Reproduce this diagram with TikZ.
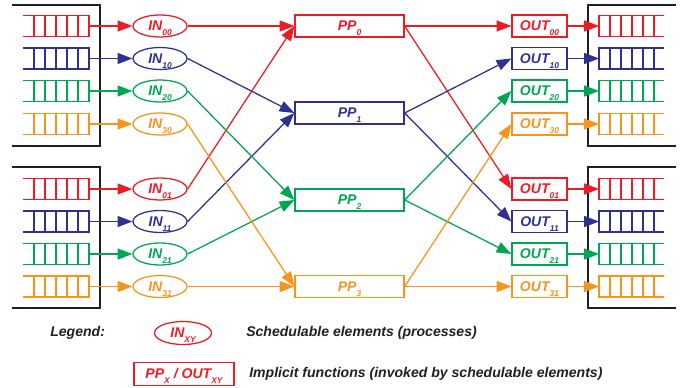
\documentclass[tikz,border=0pt]{standalone}
\usepackage{fontspec}
\setmainfont{Liberation Sans}
\usetikzlibrary{shapes,arrows.meta}
\definecolor{cRed}{RGB}{237,28,36}
\definecolor{cBlue}{RGB}{46,49,146}
\definecolor{cGreen}{RGB}{0,166,81}
\definecolor{cOrange}{RGB}{247,148,29}
\definecolor{cText}{RGB}{35,31,32}
\newcommand{\lbl}[2]{\textbf{\textit{#1\raisebox{-3.5pt}[0pt][0pt]{\fontsize{6}{6}\selectfont #2}}}}
\newcommand{\inqueue}[3]{
  \begin{scope}[shift={(0,#1)},#2,QueueLine]
    \draw (23,-10.5) -| (89,10.5) -- (23,10.5);
    \foreach \cx in {34,45,56,67,78} \draw (\cx,-10.5) -- (\cx,10.5);
    \coordinate (#3) at (89,0);
  \end{scope}
}
\newcommand{\outqueue}[3]{
  \begin{scope}[shift={(0,#1)},#2,QueueLine]
    \draw (664,-10.5) -| (599,10.5) -- (664,10.5);
    \foreach \cx in {610,621,632,643,654} \draw (\cx,-10.5) -- (\cx,10.5);
    \coordinate (#3) at (599,0);
  \end{scope}
}
\tikzset{
  x=0.025cm, y=-0.025cm,
  every node/.style={font=\fontsize{10}{12}\selectfont},
  QueueLine/.style={line width=0.9pt},
  InNode/.style={ellipse,draw,line width=0.9pt,minimum width=1.35cm,minimum height=0.55cm,inner sep=0pt},
  BoxNode/.style={rectangle,draw,line width=0.9pt,minimum height=0.55cm,inner sep=0pt},
  PPNode/.style={BoxNode,minimum width=2.725cm},
  OutNode/.style={BoxNode,minimum width=1.375cm},
  FlowEdge/.style={-{Triangle[length=10.5pt,width=7.8pt]},line width=0.9pt},
  Frame/.style={line width=1pt,cText},
  LegendText/.style={anchor=west,inner sep=0pt,cText},
}

\begin{document}
\begin{tikzpicture}
	\useasboundingbox (0,0) rectangle (691,388);
	\draw[Frame] (12,5) -| (100,146) -- (12,146);
	\draw[Frame] (12,167) -| (100,308) -- (12,308);
	\draw[Frame] (676,5) -| (588,146) -- (676,146);
	\draw[Frame] (676,167) -| (588,308) -- (676,308);
	\inqueue{26}{cRed}{qi00}
	\inqueue{58.5}{cBlue}{qi10}
	\inqueue{91}{cGreen}{qi20}
	\inqueue{124}{cOrange}{qi30}
	\inqueue{189}{cRed}{qi01}
	\inqueue{221.5}{cBlue}{qi11}
	\inqueue{254}{cGreen}{qi21}
	\inqueue{286.5}{cOrange}{qi31}
	\outqueue{26}{cRed}{qo00}
	\outqueue{58.5}{cBlue}{qo10}
	\outqueue{91}{cGreen}{qo20}
	\outqueue{124}{cOrange}{qo30}
	\outqueue{189}{cRed}{qo01}
	\outqueue{221.5}{cBlue}{qo11}
	\outqueue{254}{cGreen}{qo21}
	\outqueue{286.5}{cOrange}{qo31}
	\node[InNode,cRed] (IN00) at (160,26) {\lbl{IN}{00}};
	\node[InNode,cBlue] (IN10) at (160,58.5) {\lbl{IN}{10}};
	\node[InNode,cGreen] (IN20) at (160,91) {\lbl{IN}{20}};
	\node[InNode,cOrange] (IN30) at (160,124) {\lbl{IN}{30}};
	\node[InNode,cRed] (IN01) at (160,189) {\lbl{IN}{01}};
	\node[InNode,cBlue] (IN11) at (160,221.5) {\lbl{IN}{11}};
	\node[InNode,cGreen] (IN21) at (160,254) {\lbl{IN}{21}};
	\node[InNode,cOrange] (IN31) at (160,286.5) {\lbl{IN}{31}};
	\node[PPNode,cRed] (PP0) at (349.5,26) {\lbl{PP}{0}};
	\node[PPNode,cBlue] (PP1) at (349.5,113) {\lbl{PP}{1}};
	\node[PPNode,cGreen] (PP2) at (349.5,200) {\lbl{PP}{2}};
	\node[PPNode,cOrange] (PP3) at (349.5,286.5) {\lbl{PP}{3}};
	\node[OutNode,cRed] (OUT00) at (539.5,26) {\lbl{OUT}{00}};
	\node[OutNode,cBlue] (OUT10) at (539.5,58.5) {\lbl{OUT}{10}};
	\node[OutNode,cGreen] (OUT20) at (539.5,91) {\lbl{OUT}{20}};
	\node[OutNode,cOrange] (OUT30) at (539.5,124) {\lbl{OUT}{30}};
	\node[OutNode,cRed] (OUT01) at (539.5,189) {\lbl{OUT}{01}};
	\node[OutNode,cBlue] (OUT11) at (539.5,221.5) {\lbl{OUT}{11}};
	\node[OutNode,cGreen] (OUT21) at (539.5,254) {\lbl{OUT}{21}};
	\node[OutNode,cOrange] (OUT31) at (539.5,286.5) {\lbl{OUT}{31}};
	\draw[FlowEdge,cRed] (qi00) -- (IN00);
	\draw[FlowEdge,cBlue] (qi10) -- (IN10);
	\draw[FlowEdge,cGreen] (qi20) -- (IN20);
	\draw[FlowEdge,cOrange] (qi30) -- (IN30);
	\draw[FlowEdge,cRed] (qi01) -- (IN01);
	\draw[FlowEdge,cBlue] (qi11) -- (IN11);
	\draw[FlowEdge,cGreen] (qi21) -- (IN21);
	\draw[FlowEdge,cOrange] (qi31) -- (IN31);
	\draw[FlowEdge,cRed] (IN00.east) -- (PP0.west);
	\draw[FlowEdge,cRed] (IN01.east) -- (PP0.west);
	\draw[FlowEdge,cBlue] (IN10.east) -- (PP1.west);
	\draw[FlowEdge,cBlue] (IN11.east) -- (PP1.west);
	\draw[FlowEdge,cGreen] (IN20.east) -- (PP2.west);
	\draw[FlowEdge,cGreen] (IN21.east) -- (PP2.west);
	\draw[FlowEdge,cOrange] (IN30.east) -- (PP3.west);
	\draw[FlowEdge,cOrange] (IN31.east) -- (PP3.west);
	\draw[FlowEdge,cRed] (PP0.east) -- (OUT00.west);
	\draw[FlowEdge,cRed] (PP0.east) -- (OUT01.west);
	\draw[FlowEdge,cBlue] (PP1.east) -- (OUT10.west);
	\draw[FlowEdge,cBlue] (PP1.east) -- (OUT11.west);
	\draw[FlowEdge,cGreen] (PP2.east) -- (OUT20.west);
	\draw[FlowEdge,cGreen] (PP2.east) -- (OUT21.west);
	\draw[FlowEdge,cOrange] (PP3.east) -- (OUT30.west);
	\draw[FlowEdge,cOrange] (PP3.east) -- (OUT31.west);
	\draw[FlowEdge,cRed] (OUT00) -- (qo00);
	\draw[FlowEdge,cBlue] (OUT10) -- (qo10);
	\draw[FlowEdge,cGreen] (OUT20) -- (qo20);
	\draw[FlowEdge,cOrange] (OUT30) -- (qo30);
	\draw[FlowEdge,cRed] (OUT01) -- (qo01);
	\draw[FlowEdge,cBlue] (OUT11) -- (qo11);
	\draw[FlowEdge,cGreen] (OUT21) -- (qo21);
	\draw[FlowEdge,cOrange] (OUT31) -- (qo31);
	\node[LegendText] (LegHead) at (50,333) {\textbf{\textit{Legend:}}};
	\node[InNode,cRed,minimum width=1.425cm,minimum height=0.575cm] (LegIN) at (183,333) {\lbl{IN}{XY}};
	\node[LegendText] (LegINText) at (246,333) {\textbf{\textit{Schedulable elements (processes)}}};
	\node[BoxNode,cRed,minimum width=2.5cm,minimum height=0.575cm] (LegBox) at (184,374) {\lbl{PP}{X}\ \lbl{/ OUT}{XY}};
	\node[LegendText] (LegBoxText) at (249,374) {\textbf{\textit{Implicit functions (invoked by schedulable elements)}}};
\end{tikzpicture}
\end{document}
